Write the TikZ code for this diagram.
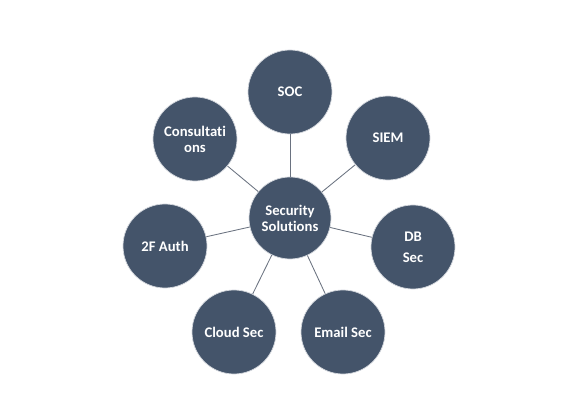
\documentclass[tikz,border=0pt]{standalone}
\usepackage{fontspec}
\setmainfont[Ligatures=NoCommon]{Carlito}
\definecolor{slate}{HTML}{44546A}
\definecolor{rim}{HTML}{D3D7DD}
\definecolor{spokegray}{HTML}{6A7280}
\tikzset{
  bubble/.style={circle, fill=slate, draw=rim, line width=1pt, minimum size=42mm,
    inner sep=0pt, text=white, align=center,
    font=\fontsize{20.9}{23}\selectfont\bfseries},
  spoke/.style={draw=spokegray, line width=1.2pt}
}
\begin{document}
\begin{tikzpicture}[x=0.5mm, y=-0.5mm]
    \fill[white] (0,0) rectangle (570,419);
    \useasboundingbox (0,0) rectangle (570,419);
    % hub
    \node[bubble, minimum size=41mm] (hub) at (290,218) {Security\\Solutions};
    % ring of services
    \node[bubble] (soc)     at (290,92)  {SOC};
    \node[bubble] (siem)    at (388,138) {SIEM};
    \node[bubble] (dbsec)   at (413,247) {DB\\[7pt]Sec};
    \node[bubble] (email)   at (343,332) {Email Sec};
    \node[bubble] (cloud)   at (234,332) {Cloud Sec};
    \node[bubble] (auth)    at (165,246) {2F Auth};
    \node[bubble] (consult) at (195,139) {Consultati\\ons};
    \foreach \Leaf in {soc,siem,dbsec,email,cloud,auth,consult}{
    \draw[spoke] (hub) -- (\Leaf);
       };
\end{tikzpicture}
\end{document}
